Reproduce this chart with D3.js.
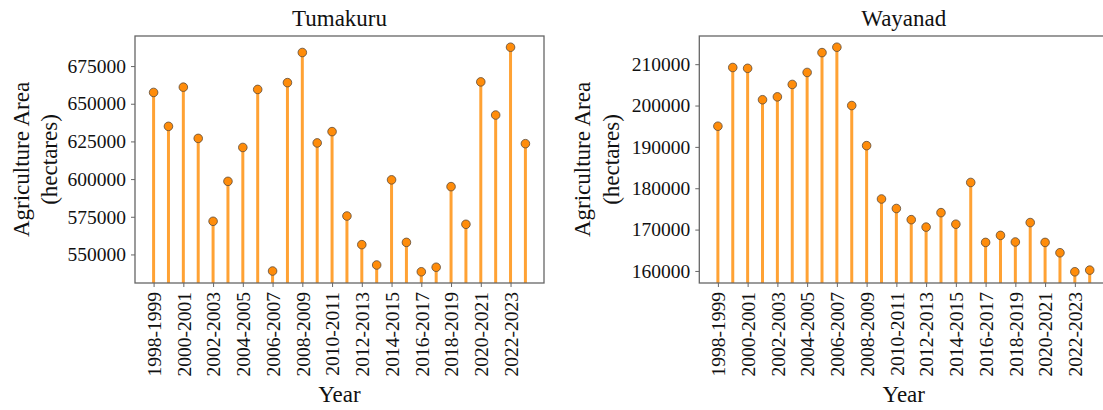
<!DOCTYPE html>
<html><head><meta charset="utf-8">
<script src="https://cdn.jsdelivr.net/npm/d3@7"></script>
<style>body{margin:0;background:#fff}svg{display:block}text{font-family:"Liberation Serif","Times New Roman",serif;fill:#111}</style>
</head><body>
<script>
const years = ["1998-1999","1999-2000","2000-2001","2001-2002","2002-2003","2003-2004","2004-2005","2005-2006","2006-2007","2007-2008","2008-2009","2009-2010","2010-2011","2011-2012","2012-2013","2013-2014","2014-2015","2015-2016","2016-2017","2017-2018","2018-2019","2019-2020","2020-2021","2021-2022","2022-2023","2023-2024"];
const tumakuru = [657500,635000,661000,627000,572000,598500,621000,659500,539000,664000,684000,624000,631500,575500,556500,543000,599500,558000,538500,541500,595000,570000,664500,642500,687500,623500];
const wayanad = [195000,209200,209000,201400,202100,205100,208000,212800,214100,200000,190300,177400,175100,172400,170600,174100,171300,181400,166900,168600,167000,171700,166900,164400,159800,160200];
const tumakuruTicks = [550000,575000,600000,625000,650000,675000];
const wayanadTicks = [160000,170000,180000,190000,200000,210000];
const titles = ["Tumakuru","Wayanad"];

const W = 1103, H = 410;
const svg = d3.select("body").append("svg").attr("width", W).attr("height", H);

function panel(x0, title, values, ticks, labX1, labX2) {
  const top = 36, bottom = 283, width = 409;
  const x = d3.scalePoint().domain(years).range([x0, x0 + width]).padding(1.25);
  const mn = d3.min(values), mx = d3.max(values), pad = (mx - mn) * 0.05;
  const y = d3.scaleLinear().domain([mn - pad, mx + pad]).range([bottom, top]);
  const g = svg.append("g");
  const clipId = "clip" + Math.round(x0);
  svg.append("clipPath").attr("id", clipId).append("rect")
    .attr("x", x0).attr("y", top).attr("width", width).attr("height", bottom - top);
  const plot = g.append("g").attr("clip-path", `url(#${clipId})`);
  plot.selectAll("line.stem").data(values).join("line").attr("class","stem")
    .attr("x1", (d,i) => x(years[i])).attr("x2", (d,i) => x(years[i]))
    .attr("y1", bottom + 2).attr("y2", d => y(d))
    .attr("stroke", "#ffa234").attr("stroke-width", 3);
  plot.selectAll("circle").data(values).join("circle")
    .attr("cx", (d,i) => x(years[i])).attr("cy", d => y(d)).attr("r", 4.3)
    .attr("fill", "#ff8c0a").attr("stroke", "#5a4a3a").attr("stroke-width", 0.8);
  g.append("rect").attr("x", x0).attr("y", top).attr("width", width).attr("height", bottom - top)
    .attr("fill", "none").attr("stroke", "#666").attr("stroke-width", 1.3);
  const ya = d3.axisLeft(y).tickValues(ticks).tickSize(4).tickPadding(5).tickFormat(d3.format("d"));
  const yg = g.append("g").attr("transform", `translate(${x0},0)`).call(ya);
  yg.select(".domain").remove();
  yg.selectAll(".tick line").attr("stroke", "#666");
  yg.selectAll(".tick text").style("font-size", "19.5px").style("font-family", "Liberation Serif").attr("fill", "#111");
  const xa = d3.axisBottom(x).tickValues(years.filter((d,i) => i % 2 === 0)).tickSize(4).tickPadding(5);
  const xg = g.append("g").attr("transform", `translate(0,${bottom})`).call(xa);
  xg.select(".domain").remove();
  xg.selectAll(".tick line").attr("stroke", "#666");
  xg.selectAll(".tick text").style("font-size", "19.5px").style("font-family", "Liberation Serif").attr("fill", "#111")
    .attr("transform", "rotate(-90)").attr("text-anchor", "end").attr("dy", "0.35em").attr("x", -9).attr("y", 0);
  g.append("text").attr("x", x0 + width / 2).attr("y", 26).attr("text-anchor", "middle")
    .style("font-size", "23px").text(title);
  g.append("text").attr("x", x0 + width / 2).attr("y", 402).attr("text-anchor", "middle")
    .style("font-size", "23px").text("Year");
  const cy = (top + bottom) / 2;
  g.append("text").attr("transform", `translate(${labX1},${cy}) rotate(-90)`).attr("text-anchor", "middle")
    .attr("dy", "0.35em").style("font-size", "23px").text("Agriculture Area");
  g.append("text").attr("transform", `translate(${labX2},${cy}) rotate(-90)`).attr("text-anchor", "middle")
    .attr("dy", "0.35em").style("font-size", "23px").text("(hectares)");
}

panel(135, titles[0], tumakuru, tumakuruTicks, 21, 49);
panel(699.3, titles[1], wayanad, wayanadTicks, 582, 611);
</script>
</body></html>
